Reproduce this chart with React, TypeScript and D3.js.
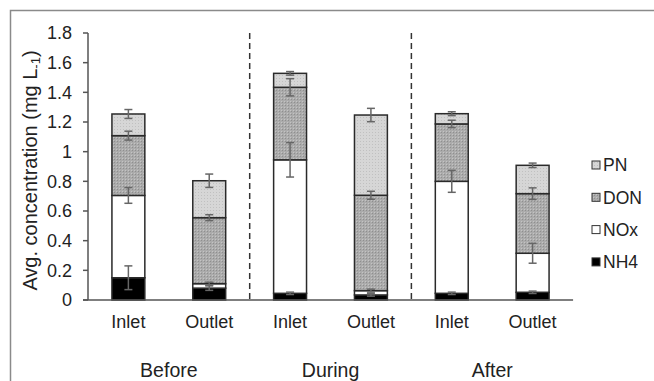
import React from 'react';
import * as d3 from 'd3';

// sample positions
const sites = ['Inlet', 'Outlet', 'Inlet', 'Outlet', 'Inlet', 'Outlet'];
const periods = ['Before', 'During', 'After'];

// stacked segment values (mg L-1), bottom to top
const nh4 = [0.15, 0.08, 0.045, 0.034, 0.045, 0.052];
const nox = [0.555, 0.03, 0.9, 0.029, 0.755, 0.263];
const don = [0.403, 0.445, 0.489, 0.643, 0.387, 0.402];
const pn = [0.146, 0.249, 0.094, 0.541, 0.069, 0.191];

// error bar half-lengths
const nh4Err = [0.08, 0.015, 0.008, 0.008, 0.008, 0.008];
const noxErr = [0.053, 0.01, 0.116, 0.01, 0.074, 0.067];
const donErr = [0.03, 0.02, 0.058, 0.027, 0.025, 0.039];
const pnErr = [0.03, 0.045, 0.012, 0.045, 0.013, 0.015];

const yTicks = [0, 0.2, 0.4, 0.6, 0.8, 1, 1.2, 1.4, 1.6, 1.8];

const series = [
  { key: 'NH4', values: nh4, errs: nh4Err, fill: '#000' },
  { key: 'NOx', values: nox, errs: noxErr, fill: '#fff' },
  { key: 'DON', values: don, errs: donErr, fill: 'url(#donPat)' },
  { key: 'PN', values: pn, errs: pnErr, fill: 'url(#pnPat)' },
];

const W = 654;
const H = 381;
const margin = { left: 88, right: 81, top: 33, bottom: 81 };
const font = '"Liberation Sans", Arial, sans-serif';

export default function App() {
  const idx = sites.map((_, i) => i);
  const x = d3
    .scaleBand<number>()
    .domain(idx)
    .range([margin.left, W - margin.right])
    .paddingInner(0.593)
    .paddingOuter(0.296);
  const y = d3.scaleLinear().domain([0, 1.8]).range([H - margin.bottom, margin.top]);
  const step = x.step();
  const x0 = margin.left;
  const xEnd = x0 + step * sites.length;

  const stacks = series.map((s, si) =>
    s.values.map((v, i) => {
      const base = d3.sum(series.slice(0, si), t => t.values[i]);
      return { y0: base, y1: base + v, err: s.errs[i] };
    })
  );

  const fmt = (v: number) => (v === 0 ? '0' : d3.format('~g')(+v.toFixed(1)));

  return (
    <svg width={W} height={H} style={{ position: 'absolute', left: 0, top: 0 }}>
      <defs>
        <pattern id="pnPat" width="3" height="3" patternUnits="userSpaceOnUse">
          <rect width="3" height="3" fill="#d6d6d6" />
          <rect width="1" height="1" fill="#c0c0c0" />
        </pattern>
        <pattern id="donPat" width="3" height="3" patternUnits="userSpaceOnUse">
          <rect width="3" height="3" fill="#ababab" />
          <rect width="1" height="1" fill="#8f8f8f" />
          <rect x="2" y="2" width="1" height="1" fill="#c4c4c4" />
        </pattern>
      </defs>
      <rect x={10.5} y={10.5} width={W + 10} height={H + 10} fill="#fff" stroke="#8a8a8a" strokeWidth={1.5} />

      {/* dashed period separators */}
      {[2, 4].map(k => (
        <line
          key={k}
          x1={x0 + step * k}
          x2={x0 + step * k}
          y1={y(1.8)}
          y2={y(0)}
          stroke="#333"
          strokeWidth={1.5}
          strokeDasharray="6,4"
        />
      ))}

      {/* bars */}
      {series.map((s, si) =>
        stacks[si].map((d, i) => (
          <rect
            key={`${s.key}-${i}`}
            x={x(i)}
            width={x.bandwidth()}
            y={y(d.y1)}
            height={y(d.y0) - y(d.y1)}
            fill={s.fill}
            stroke="#2a2a2a"
            strokeWidth={1.5}
          />
        ))
      )}

      {/* error bars */}
      {series.map((s, si) =>
        stacks[si].map((d, i) => {
          const cx = (x(i) as number) + x.bandwidth() / 2;
          const top = y(d.y1 + d.err);
          const bot = y(d.y1 - d.err);
          return (
            <g key={`e-${s.key}-${i}`} stroke="#666" strokeWidth={1.5}>
              <line x1={cx} x2={cx} y1={top} y2={bot} />
              <line x1={cx - 4} x2={cx + 4} y1={top} y2={top} />
              <line x1={cx - 4} x2={cx + 4} y1={bot} y2={bot} />
            </g>
          );
        })
      )}

      {/* axes */}
      <line x1={x0} x2={x0} y1={y(1.8)} y2={y(0)} stroke="#555" strokeWidth={1.5} />
      <line x1={x0 - 5} x2={xEnd} y1={y(0)} y2={y(0)} stroke="#555" strokeWidth={1.5} />
      {yTicks.map(t => (
        <g key={t}>
          <line x1={x0 - 5} x2={x0} y1={y(t)} y2={y(t)} stroke="#555" strokeWidth={1.5} />
          <text
            x={x0 - 16}
            y={y(t)}
            dy="0.36em"
            textAnchor="end"
            fontFamily={font}
            fontSize={18}
            fill="#222"
          >
            {fmt(t)}
          </text>
        </g>
      ))}

      {/* category labels */}
      {sites.map((s, i) => (
        <text
          key={i}
          x={(x(i) as number) + x.bandwidth() / 2}
          y={328}
          textAnchor="middle"
          fontFamily={font}
          fontSize={18}
          fill="#222"
        >
          {s}
        </text>
      ))}
      {periods.map((p, k) => (
        <text
          key={p}
          x={x0 + step * (2 * k + 1)}
          y={377}
          textAnchor="middle"
          fontFamily={font}
          fontSize={19.5}
          fill="#222"
        >
          {p}
        </text>
      ))}

      {/* y title */}
      <text
        transform={`translate(37, ${(y(0) + y(1.8)) / 2 + 4}) rotate(-90)`}
        textAnchor="middle"
        fontFamily={font}
        fontSize={20}
        fill="#222"
      >
        Avg. concentration (mg L<tspan fontSize={13} dy={3}>-1</tspan>
        <tspan dy={-3}>)</tspan>
      </text>

      {/* legend */}
      {series
        .slice()
        .reverse()
        .map((s, k) => {
          const ly = 165 + k * 32.3;
          return (
            <g key={s.key}>
              <rect x={592} y={ly - 4} width={8} height={8} fill={s.fill} stroke="#333" strokeWidth={1} />
              <text x={603} y={ly} dy="0.36em" fontFamily={font} fontSize={17.5} fill="#222">
                {s.key}
              </text>
            </g>
          );
        })}
    </svg>
  );
}
